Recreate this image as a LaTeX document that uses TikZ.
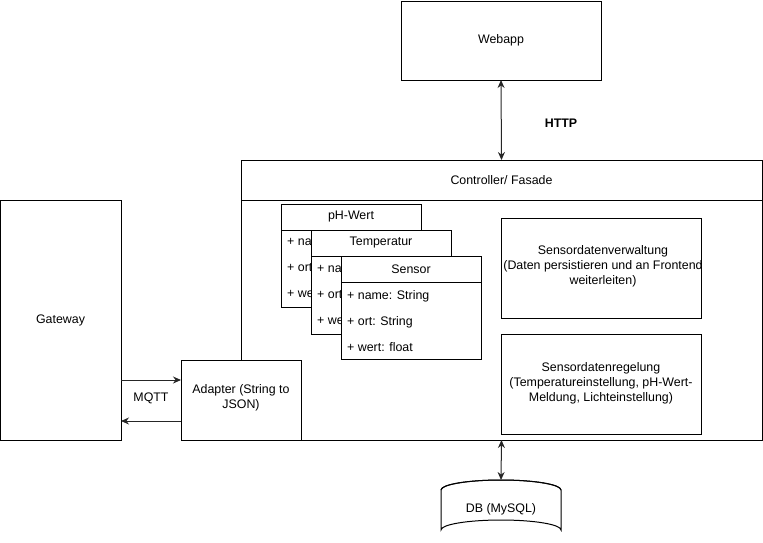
\documentclass[tikz,border=0pt]{standalone}
\usepackage{fontspec}
\setmainfont{Liberation Sans}
\usetikzlibrary{arrows.meta}
\begin{document}
\begin{tikzpicture}[x=1pt,y=-1pt,
  box/.style={draw=black,line width=1pt,fill=white,inner sep=0pt,outer sep=0pt,rectangle},
  lbl/.style={font=\fontsize{12.4}{15}\selectfont,align=center,inner sep=0pt},
  row/.style={font=\fontsize{12.4}{15}\selectfont,anchor=west,inner sep=0pt},
  conn/.style={line width=1pt,draw=black!85,{Stealth[length=8pt,width=7pt]}-{Stealth[length=8pt,width=7pt]}},
  oneway/.style={line width=1pt,draw=black!85,-{Stealth[length=8pt,width=7pt]}}]
\useasboundingbox (0,0) rectangle (763,542);
% Webapp
\node[box,minimum width=200pt,minimum height=79pt] (web) at (501,40.5) {};
\node[lbl] at (web) {Webapp};
% Controller
\node[box,minimum width=521pt,minimum height=40pt] (ctrlh) at (501.5,180) {};
\node[lbl] at (ctrlh) {Controller/ Fasade};
\node[box,minimum width=521pt,minimum height=240pt] (ctrlb) at (501.5,320) {};
% Gateway
\node[box,minimum width=121pt,minimum height=240pt] (gw) at (60.5,320) {};
\node[lbl] at (gw) {Gateway};
% Adapter
\node[box,minimum width=120pt,minimum height=80pt] (ad) at (241,400) {};
\node[lbl] at (241,398) {Adapter (String to\\JSON)};
% pH-Wert class
\node[box,minimum width=140pt,minimum height=26pt] (phh) at (351,217) {};
\node[lbl] at (phh) {pH-Wert};
\node[box,minimum width=140pt,minimum height=77pt] (phb) at (351,268.5) {};
\node[row] at (287,242) {+ na};
\node[row] at (287,268) {+ ort};
\node[row] at (287,294) {+ we};
% Temperatur class
\node[box,minimum width=140pt,minimum height=26pt] (th) at (381,243) {};
\node[lbl] at (th) {Temperatur};
\node[box,minimum width=140pt,minimum height=78pt] (tb) at (381,295) {};
\node[row] at (317,269) {+ na};
\node[row] at (317,295) {+ ort};
\node[row] at (317,321) {+ we};
% Sensor class
\node[box,minimum width=140pt,minimum height=26pt] (sh) at (411,269) {};
\node[lbl] at (sh) {Sensor};
\node[box,minimum width=140pt,minimum height=77pt] (sb) at (411,320.5) {};
\node[row] at (347,296) {+ name: String};
\node[row] at (347,322) {+ ort: String};
\node[row] at (347,347) {+ wert: float};
% Sensordatenverwaltung
\node[box,minimum width=200pt,minimum height=100pt] (sv) at (601,268) {};
\begin{scope}
\clip (501,218) rectangle (701,318);
\node[lbl] at (603,266) {Sensordatenverwaltung\\(Daten persistieren und an Frontend\\weiterleiten)};
\end{scope}
% Sensordatenregelung
\node[box,minimum width=200pt,minimum height=100pt] (sr) at (601,384) {};
\begin{scope}
\clip (501,334) rectangle (701,434);
\node[lbl] at (601,383) {Sensordatenregelung\\(Temperatureinstellung, pH-Wert-\\Meldung, Lichteinstellung)};
\end{scope}
% DB cylinder
\draw[line width=1pt,fill=white] (441,490) -- (441,530) arc[start angle=180,end angle=360,x radius=60,y radius=10] -- (561,490) arc[start angle=0,end angle=-180,x radius=60,y radius=10] -- cycle;
\draw[line width=1pt] (441,490) arc[start angle=180,end angle=360,x radius=60,y radius=10];
\coordinate (dbtop) at (501,480);
\node[lbl] (db) at (501,509) {DB (MySQL)};
% Connectors
\draw[conn] (web.south) -- (ctrlh.north);
\node[font=\bfseries\fontsize{12.4}{15}\selectfont,inner sep=0pt] (http) at (561,123) {HTTP};
\draw[conn] (ctrlb.south) -- (dbtop);
\draw[oneway] (gw.east |- 0,380) coordinate (g1) -- (ad.west |- g1);
\draw[oneway] (ad.west |- 0,421) coordinate (a1) -- (gw.east |- a1);
\node[lbl] (mqtt) at (151,398) {MQTT};
\end{tikzpicture}
\end{document}
